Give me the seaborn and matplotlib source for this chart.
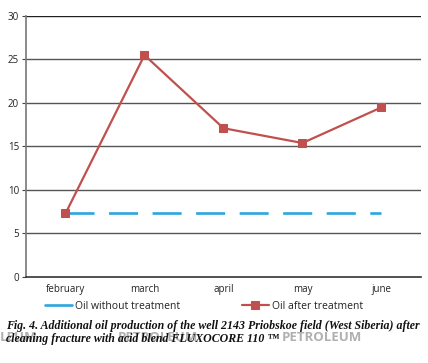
import matplotlib
matplotlib.use("Agg")
import matplotlib.pyplot as plt
import seaborn as sns
import pandas as pd
import numpy as np

months = ["february", "march", "april", "may", "june"]
oil_without = [7.3, 7.3, 7.3, 7.3, 7.3]
oil_after = [7.3, 25.5, 17.1, 15.4, 19.5]
yticks = [0, 5, 10, 15, 20, 25, 30]

sns.set_style("white")
plt.rcParams['font.family'] = ['Open Sans', 'DejaVu Sans']

df = pd.DataFrame({"month": months, "without": oil_without, "after": oil_after})
df["x"] = np.arange(len(months))

fig = plt.figure(figsize=(4.28, 3.63), dpi=100)
ax = fig.add_axes([0.0607, 0.2369, 0.9229, 0.7191])

blue = "#2BA6DE"
red = "#C0504D"

sns.lineplot(data=df, x="x", y="without", ax=ax, color=blue, linewidth=1.9,
             dashes=False, label="Oil without treatment", zorder=2)
ax.lines[-1].set_dashes([11, 5.5])
ax.lines[-1].set_dash_capstyle("butt")
sns.lineplot(data=df, x="x", y="after", ax=ax, color=red, linewidth=1.6,
             marker="s", markersize=6, markeredgecolor=red, label="Oil after treatment", zorder=3)

ax.set_xlim(-0.5, len(months) - 0.5)
ax.set_ylim(0, 30)
ax.set_yticks(yticks)
ax.set_yticklabels([str(v) for v in yticks], fontsize=7, color="#222222")
ax.set_xticks(df["x"])
ax.set_xticklabels(months, fontsize=7, color="#222222")
ax.set_xticks(np.arange(-0.5, len(months)), minor=True)
ax.tick_params(axis="x", which="major", length=0, pad=5)
ax.tick_params(axis="x", which="minor", length=3, width=0.8, color="#444444", direction="out")
ax.tick_params(axis="y", length=3, width=0.8, color="#444444", direction="out", pad=2, left=True)
ax.set_xlabel("")
ax.set_ylabel("")

for v in yticks[1:]:
    ax.axhline(v, color="#555555" if v < 30 else "#222222", linewidth=1.0, zorder=1)

for s in ["top", "right"]:
    ax.spines[s].set_visible(False)
ax.spines["left"].set_color("#777777")
ax.spines["left"].set_linewidth(1.2)
ax.spines["bottom"].set_color("#333333")
ax.spines["bottom"].set_linewidth(1.2)

leg = ax.legend(loc="upper left", bbox_to_anchor=(0.048, -0.092), ncol=2, frameon=False,
                fontsize=7.5, handlelength=2.6, handletextpad=0.3, columnspacing=5.9,
                borderaxespad=0, borderpad=0)
for t in leg.get_texts():
    t.set_color("#222222")
for h in leg.legend_handles:
    h.set_linestyle("-")

# watermark (partly covered by the caption, as in the source)
wm_kw = dict(fontsize=9.5, color="#b0b0b0", fontweight="bold", ha="left", va="center", zorder=0)
fig.text(0.0, 0.070, "LEUM", **wm_kw)
fig.text(0.276, 0.070, "PETROLEUM", **wm_kw)
fig.text(0.659, 0.070, "PETROLEUM", **wm_kw)

cap_kw = dict(fontsize=8.6, family="Liberation Serif", fontweight="bold", style="italic",
              color="#111111", ha="left", va="center", zorder=5)
fig.text(0.015, 0.102, "Fig. 4. Additional oil production of the well 2143 Priobskoe field (West Siberia) after", **cap_kw)
fig.text(0.015, 0.066, "cleaning fracture with acid blend FLUXOCORE 110 \u2122", **cap_kw)

fig.savefig("out.png", dpi=100)
